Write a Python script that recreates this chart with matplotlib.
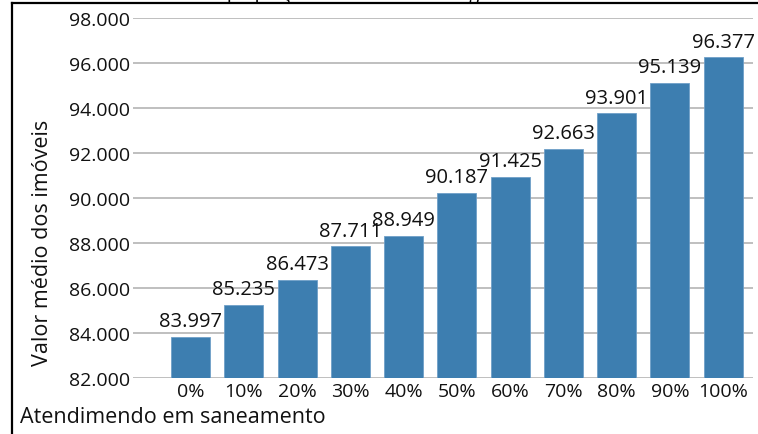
import matplotlib
matplotlib.use("Agg")
import matplotlib.pyplot as plt
from matplotlib.lines import Line2D
from matplotlib.ticker import FuncFormatter

# dados (alturas lidas das barras; rotulos como impressos no grafico)
categorias = ['0%', '10%', '20%', '30%', '40%', '50%', '60%', '70%', '80%', '90%', '100%']
alturas = [83840, 85245, 86355, 87855, 88325, 90225, 90940, 92195, 93775, 95120, 96250]
rotulos = ['83.997', '85.235', '86.473', '87.711', '88.949', '90.187',
           '91.425', '92.663', '93.901', '95.139', '96.377']
yticks = [82000, 84000, 86000, 88000, 90000, 92000, 94000, 96000, 98000]


def fmt_br(v, pos=None):
    return f"{v:,.0f}".replace(',', '.')


plt.rcParams['font.family'] = ['Open Sans', 'DejaVu Sans']

fig = plt.figure(figsize=(7.58, 4.35), dpi=100)
ax = fig.add_axes([0.1755, 0.1287, 0.8179, 0.8276])

x = list(range(len(categorias)))
ax.bar(x, alturas, width=0.73, color='#3d7eb0', edgecolor='#6f9fc8', linewidth=0.6, zorder=3)

for xi, h, r in zip(x, alturas, rotulos):
    ax.annotate(r, (xi, h), xytext=(0, 4), textcoords='offset points',
                ha='center', va='bottom', fontsize=14.5, color='#111111')

ax.set_ylim(82000, 98000)
ax.set_xlim(-1.08, 10.56)
ax.set_yticks(yticks)
ax.yaxis.set_major_formatter(FuncFormatter(fmt_br))
ax.set_xticks(x)
ax.set_xticklabels(categorias)
ax.tick_params(axis='both', length=0, labelsize=14, colors='#111111')
ax.tick_params(axis='y', pad=2)
ax.tick_params(axis='x', pad=3)
ax.grid(axis='y', color='#b4b4b4', linewidth=1.2, zorder=0)
for s in ax.spines.values():
    s.set_visible(False)

ax.set_ylabel('Valor médio dos imóveis', fontsize=15.5, color='#111111')
ax.yaxis.set_label_coords(-0.129, 0.378)
fig.text(20 / 758, 1 - 418 / 435, 'Atendimendo em saneamento', fontsize=15.5,
         color='#111111', ha='left', va='center')

# moldura e titulo cortado no topo
fig.add_artist(Line2D([12 / 758, 12 / 758], [0, 1 - 4 / 435], color='black', linewidth=1.6))
fig.add_artist(Line2D([12 / 758, 1], [1 - 4 / 435, 1 - 4 / 435], color='black', linewidth=1.6))
fig.text(227 / 758, 1.0 + 1.5 / 435, 'proporção da cobertura de esgoto',
         fontsize=15, family='Liberation Serif', ha='left', va='baseline')

fig.savefig('out.png', dpi=100)
